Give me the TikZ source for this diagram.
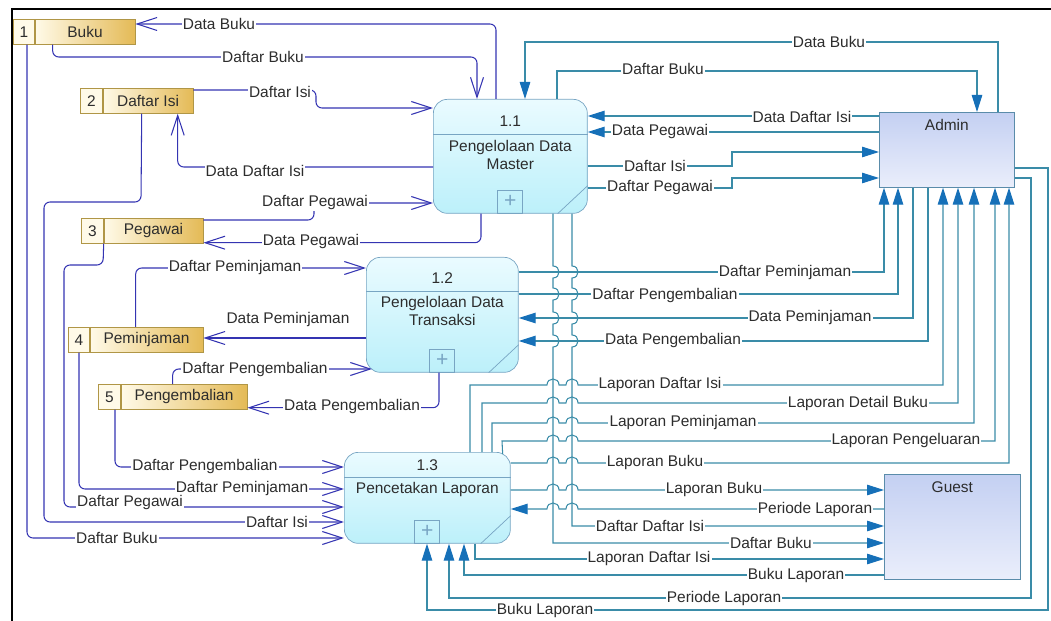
\documentclass[tikz,border=0pt]{standalone}
\usepackage{fontspec}
\setmainfont{Liberation Sans}
\usetikzlibrary{calc,arrows.meta}

\definecolor{flownavy}{RGB}{52,52,178}
\definecolor{flowteal}{RGB}{58,140,168}
\definecolor{tipblue}{RGB}{22,112,184}
\definecolor{txtgray}{RGB}{45,45,45}
\definecolor{storegold}{RGB}{228,186,86}
\definecolor{storelight}{RGB}{255,250,232}
\definecolor{storeedge}{RGB}{176,150,70}
\definecolor{proctop}{RGB}{234,251,255}
\definecolor{procbot}{RGB}{188,240,250}
\definecolor{procedge}{RGB}{120,165,195}
\definecolor{enttop}{RGB}{196,208,242}
\definecolor{entbot}{RGB}{234,238,251}
\definecolor{entedge}{RGB}{90,140,170}

% hop of a horizontal line (going right) over a vertical one
\newcommand{\hoph}[2]{-- (#1-6,#2) .. controls (#1-6,#2-8) and (#1+6,#2-8) .. (#1+6,#2)}
% hop of a vertical line (going down) over a horizontal one
\newcommand{\hopv}[2]{-- (#1,#2-6) .. controls (#1+8,#2-6) and (#1+8,#2+6) .. (#1,#2+6)}

\begin{document}
\begin{tikzpicture}[x=0.02cm,y=-0.02cm,
  font=\fontsize{8.8}{10.5}\selectfont, text=txtgray,
  snum/.style={draw=storeedge, fill=storelight, minimum height=0.5cm, inner sep=0pt, anchor=north west},
  sname/.style={draw=storeedge, left color=storelight, right color=storegold, minimum height=0.5cm, inner sep=0pt, anchor=west},
  proc/.style={draw=procedge, rounded corners=0.28cm, top color=proctop, bottom color=procbot, inner sep=0pt, anchor=north west},
  procline/.style={draw=procedge},
  plusbox/.style={draw=procedge, minimum width=0.5cm, minimum height=0.46cm, inner sep=0pt, text=procedge, font=\fontsize{12}{12}\selectfont},
  ent/.style={draw=entedge, top color=enttop, bottom color=entbot, inner sep=0pt, anchor=north west},
  nflow/.style={draw=flownavy, line width=0.6pt, rounded corners=1.2mm, -{Straight Barb[length=4mm,width=2.6mm]}},
  tflow/.style={draw=flowteal, line width=0.6pt, -{Triangle[length=3.4mm,width=2.1mm,color=tipblue]}},
  tback/.style={draw=flowteal, line width=0.6pt, {Triangle[length=3.4mm,width=2.1mm,color=tipblue]}-},
  lbl/.style={fill=white, inner sep=0.6pt}]

\useasboundingbox (0,0) rectangle (1051,621);
\draw[line width=0.04cm] (12,621) -- (12,9) -- (1051,9);

% data stores
\node[snum, minimum width=0.42cm] (s1n) at (13,19) {1};
\node[sname, minimum width=2cm] (s1) at (s1n.east) {Buku};
\node[snum, minimum width=0.44cm] (s2n) at (80,88) {2};
\node[sname, minimum width=1.8cm] (s2) at (s2n.east) {Daftar Isi};
\node[snum, minimum width=0.44cm] (s3n) at (81,218) {3};
\node[sname, minimum width=1.98cm] (s3) at (s3n.east) {Pegawai};
\node[snum, minimum width=0.42cm] (s4n) at (68,327) {4};
\node[sname, minimum width=2.26cm] (s4) at (s4n.east) {Peminjaman};
\node[snum, minimum width=0.44cm] (s5n) at (98,384) {5};
\node[sname, minimum width=2.52cm] (s5) at (s5n.east) {Pengembalian};

% processes
\node[proc, minimum width=3.08cm, minimum height=2.28cm] (p11) at (433,99) {};
\draw[procline] ($(p11.north west)+(0,35)$) -- ($(p11.north east)+(0,35)$);
\draw[procline] ($(p11.south east)+(-30,0)$) -- ($(p11.south east)+(0,-28)$);
\node[plusbox, anchor=south] (p11plus) at (p11.south) {+};
\node (p11num) at ($(p11.north)+(0,22)$) {1.1};
\node[align=center] (p11name) at ($(p11.north)+(0,56)$) {Pengelolaan Data\\Master};

\node[proc, minimum width=3.04cm, minimum height=2.3cm] (p12) at (366,257) {};
\draw[procline] ($(p12.north west)+(0,34)$) -- ($(p12.north east)+(0,34)$);
\draw[procline] ($(p12.south east)+(-30,0)$) -- ($(p12.south east)+(0,-28)$);
\node[plusbox, anchor=south] (p12plus) at (p12.south) {+};
\node (p12num) at ($(p12.north)+(0,21)$) {1.2};
\node[align=center] (p12name) at ($(p12.north)+(0,54)$) {Pengelolaan Data\\Transaksi};

\node[proc, minimum width=3.32cm, minimum height=1.82cm] (p13) at (344,452) {};
\draw[procline] ($(p13.north west)+(0,25)$) -- ($(p13.north east)+(0,25)$);
\draw[procline] ($(p13.south east)+(-30,0)$) -- ($(p13.south east)+(0,-28)$);
\node[plusbox, anchor=south] (p13plus) at (p13.south) {+};
\node (p13num) at ($(p13.north)+(0,13)$) {1.3};
\node (p13name) at ($(p13.north)+(0,38)$) {Pencetakan Laporan};

% external entities
\node[ent, minimum width=2.7cm, minimum height=1.5cm] (admin) at (879,112) {};
\node (admintxt) at ($(admin.north)+(0,13)$) {Admin};
\node[ent, minimum width=2.72cm, minimum height=2.1cm] (guest) at (884,474) {};
\node (guesttxt) at ($(guest.north)+(0,13)$) {Guest};

% flows between stores and processes
\draw[nflow] ($(p11.north west)+(63,0)$) |- ($(s1.north east)+(0,5)$);
\draw[nflow] ($(s1.south west)+(18,0)$) |- (477,57) -- ($(p11.north west)+(44,0)$);
\draw[nflow] ($(s2.north east)+(0,2)$) -| (316,108) -- ($(p11.north west)+(0,9)$);
\draw[nflow] ($(p11.north west)+(0,68)$) -| ($(s2.south west)+(75,0)$);
\draw[nflow] ($(s3.north east)+(0,2)$) -| (314,203) -- ($(p11.north west)+(0,104)$);
\draw[nflow] ($(p11.south west)+(48,0)$) |- ($(s3.south east)+(0,-1)$);
\draw[nflow] ($(s4.north west)+(46,0)$) |- ($(p12.north west)+(0,11)$);
\draw[nflow] ($(p12.north west)+(0,81)$) -- ($(s4.north east)+(0,11)$);
\draw[nflow] ($(s5.north west)+(52,0)$) |- ($(p12.north west)+(6,112)$);
\draw[nflow] ($(p12.south west)+(73,0)$) |- ($(s5.south east)+(0,-2)$);
\draw[nflow] ($(s5n.south west)+(17,0)$) |- ($(p13.north west)+(0,15)$);
\draw[nflow] ($(s4n.south west)+(11,0)$) |- ($(p13.north west)+(0,37)$);
\draw[nflow] (s3.south west) -- (103,265) -| (64,507) -- ($(p13.north west)+(0,55)$);
\draw[nflow] ($(s2.south west)+(39,0)$) -- (141,202) -| (44,522) -- ($(p13.north west)+(0,70)$);
\draw[nflow] ($(s1n.south west)+(14,0)$) |- ($(p13.north west)+(0,86)$);

% flows between entities and processes
\draw[tflow] ($(admin.north west)+(119,0)$) |- (525,42) -- ($(p11.north west)+(92,0)$);
\draw[tflow] ($(p11.north west)+(124,0)$) |- (977,71) -- ($(admin.north west)+(98,0)$);
\draw[tflow] ($(admin.north west)+(0,4)$) -- ($(p11.north east)+(0,17)$);
\draw[tflow] ($(admin.north west)+(0,20)$) -- ($(p11.north east)+(0,33)$);
\draw[tflow] ($(p11.north east)+(0,67)$) -| (732,152) -- ($(admin.north west)+(0,40)$);
\draw[tflow] ($(p11.north east)+(0,89)$) -| (732,178) -- ($(admin.north west)+(0,66)$);

\draw[tflow] ($(p12.north east)+(0,15)$) -| ($(admin.south west)+(5,0)$);
\draw[tflow] ($(p12.north east)+(0,37)$) -| ($(admin.south west)+(19,0)$);
\draw[tflow] ($(admin.south west)+(34,0)$) |- ($(p12.north east)+(0,61)$);
\draw[tflow] ($(admin.south west)+(49,0)$) |- ($(p12.north east)+(0,84)$);

\draw[tflow] ($(p13.north west)+(126,0)$) -- (470,385) \hoph{553}{385} \hoph{572}{385} -| ($(admin.south west)+(64,0)$);
\draw[tflow] ($(p13.north west)+(138,0)$) -- (482,403) \hoph{553}{403} \hoph{572}{403} -| ($(admin.south west)+(79,0)$);
\draw[tflow] ($(p13.north west)+(148,0)$) -- (492,423) \hoph{553}{423} \hoph{572}{423} -| ($(admin.south west)+(95,0)$);
\draw[tflow] ($(p13.north east)+(-8,2)$) -- (502,441) \hoph{553}{441} \hoph{572}{441} -| ($(admin.south west)+(116,0)$);
\draw[tflow] ($(p13.north east)+(0,11)$) \hoph{553}{463} \hoph{572}{463} -| ($(admin.south west)+(130,0)$);

\draw[tflow] ($(p13.north east)+(0,38)$) \hoph{553}{490} \hoph{572}{490} -- ($(guest.north west)+(0,16)$);
\draw[tback] ($(p13.north east)+(0,57)$) \hoph{553}{509} \hoph{572}{509} -- ($(guest.north west)+(0,35)$);
\draw[tflow] ($(p11.south west)+(139,0)$) \hopv{572}{272} \hopv{572}{294} \hopv{572}{318} \hopv{572}{341} |- ($(guest.north west)+(0,52)$);
\draw[tflow] ($(p11.south west)+(120,0)$) \hopv{553}{272} \hopv{553}{294} \hopv{553}{318} \hopv{553}{341} |- ($(guest.north west)+(0,69)$);
\draw[tflow] ($(p13.south west)+(131,0)$) |- ($(guest.north west)+(0,85)$);
\draw[tflow] ($(guest.north west)+(0,101)$) -| ($(p13.south west)+(120,0)$);
\draw[tflow] ($(admin.north east)+(0,66)$) -| (1031,598) -| ($(p13.south west)+(105,0)$);
\draw[tflow] ($(admin.north east)+(0,56)$) -| (1048,610) -| ($(p13.south west)+(83,0)$);

% labels
\node[lbl] (l1) at (219,24) {Data Buku};
\node[lbl] (l2) at (263,57) {Daftar Buku};
\node[lbl] (l3) at (280,92) {Daftar Isi};
\node[lbl] (l4) at (255,171) {Data Daftar Isi};
\node[lbl] (l5) at (315,203) {Daftar Pegawai};
\node[lbl] (l6) at (311,242) {Data Pegawai};
\node[lbl] (l7) at (235,268) {Daftar Peminjaman};
\node[lbl] (l8) at (288,320) {Data Peminjaman};
\node[lbl] (l9) at (255,370) {Daftar Pengembalian};
\node[lbl] (l10) at (352,407) {Data Pengembalian};
\node[lbl] (l11) at (205,467) {Daftar Pengembalian};
\node[lbl] (l12) at (242,489) {Daftar Peminjaman};
\node[lbl] (l13) at (130,503) {Daftar Pegawai};
\node[lbl] (l14) at (277,522) {Daftar Isi};
\node[lbl] (l15) at (117,538) {Daftar Buku};

\node[lbl] (l16) at (829,42) {Data Buku};
\node[lbl] (l17) at (663,69) {Daftar Buku};
\node[lbl] (l18) at (802,117) {Data Daftar Isi};
\node[lbl] (l19) at (660,132) {Data Pegawai};
\node[lbl] (l20) at (655,166) {Daftar Isi};
\node[lbl] (l21) at (660,188) {Daftar Pegawai};
\node[lbl] (l22) at (785,273) {Daftar Peminjaman};
\node[lbl] (l23) at (665,296) {Daftar Pengembalian};
\node[lbl] (l24) at (810,318) {Data Peminjaman};
\node[lbl] (l25) at (673,341) {Data Pengembalian};
\node[lbl] (l26) at (660,385) {Laporan Daftar Isi};
\node[lbl] (l27) at (858,404) {Laporan Detail Buku};
\node[lbl] (l28) at (683,423) {Laporan Peminjaman};
\node[lbl] (l29) at (906,441) {Laporan Pengeluaran};
\node[lbl] (l30) at (655,463) {Laporan Buku};
\node[lbl] (l31) at (714,490) {Laporan Buku};
\node[lbl] (l32) at (815,509) {Periode Laporan};
\node[lbl] (l33) at (650,526) {Daftar Daftar Isi};
\node[lbl] (l34) at (771,543) {Daftar Buku};
\node[lbl] (l35) at (649,559) {Laporan Daftar Isi};
\node[lbl] (l36) at (796,575) {Buku Laporan};
\node[lbl] (l37) at (724,598) {Periode Laporan};
\node[lbl] (l38) at (545,610) {Buku Laporan};
\end{tikzpicture}
\end{document}
